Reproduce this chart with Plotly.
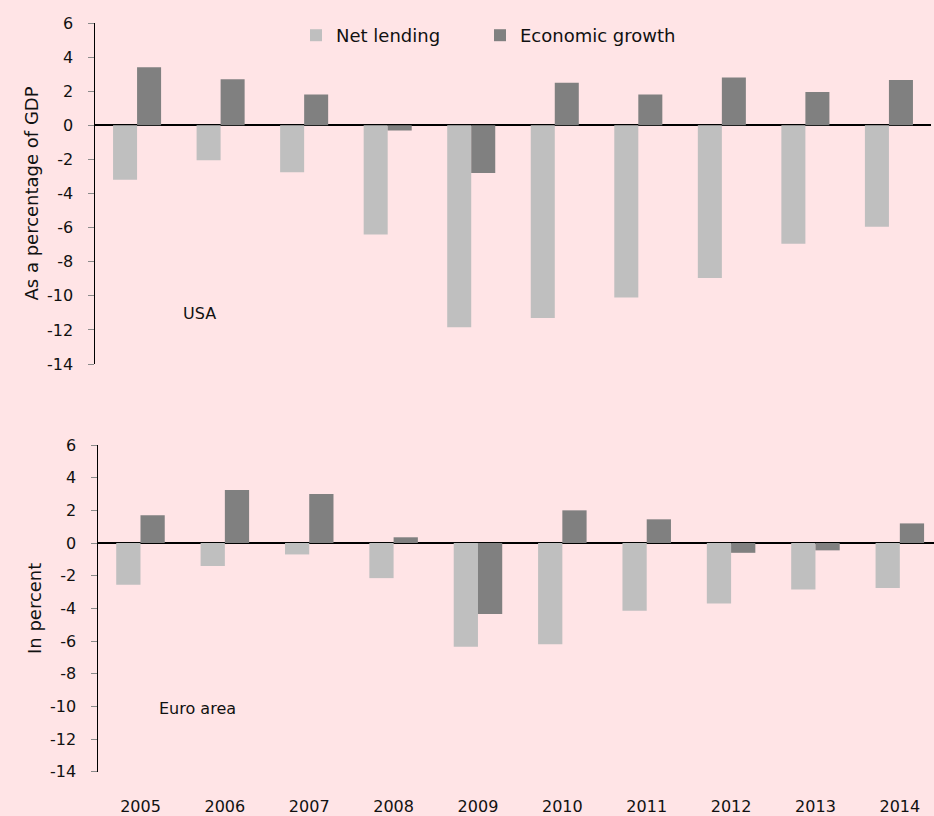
import plotly.graph_objects as go

years = ["2005", "2006", "2007", "2008", "2009", "2010", "2011", "2012", "2013", "2014"]
usa_net_lending = [-3.2, -2.05, -2.75, -6.4, -11.85, -11.3, -10.1, -8.95, -6.95, -5.95]
usa_growth = [3.4, 2.7, 1.8, -0.3, -2.8, 2.5, 1.8, 2.8, 1.95, 2.65]
euro_net_lending = [-2.55, -1.4, -0.7, -2.15, -6.35, -6.2, -4.15, -3.7, -2.85, -2.75]
euro_growth = [1.7, 3.25, 3.0, 0.35, -4.35, 2.0, 1.45, -0.6, -0.45, 1.2]
y_ticks = [6, 4, 2, 0, -2, -4, -6, -8, -10, -12, -14]
y_tick_labels = ["6", "4", "2", "0", "-2", "-4", "-6", "-8", "-10", "-12", "-14"]

W, H = 934, 816
LIGHT = "#bfbfbf"
DARK = "#808080"
BG = "#ffe4e6"
FONT = "DejaVu Sans"
TXT = "#111111"

fig = go.Figure()
fig.add_trace(go.Bar(x=years, y=usa_net_lending, name="Net lending", marker_color=LIGHT,
                     marker_line_width=0, xaxis="x", yaxis="y", legend="legend"))
fig.add_trace(go.Bar(x=years, y=usa_growth, name="Economic growth", marker_color=DARK,
                     marker_line_width=0, xaxis="x", yaxis="y", legend="legend2"))
fig.add_trace(go.Bar(x=years, y=euro_net_lending, name="Net lending", marker_color=LIGHT,
                     marker_line_width=0, xaxis="x2", yaxis="y2", showlegend=False))
fig.add_trace(go.Bar(x=years, y=euro_growth, name="Economic growth", marker_color=DARK,
                     marker_line_width=0, xaxis="x2", yaxis="y2", showlegend=False))

def px_x(p):
    return p / W

def px_y(p):
    return 1 - p / H

yax_common = dict(
    range=[-14, 6], tickvals=y_ticks, ticktext=y_tick_labels,
    ticks="outside", ticklen=6, tickcolor="#8a8a8a", ticklabelstandoff=12,
    showline=True, linecolor="#000000", linewidth=1, showgrid=False,
    zeroline=True, zerolinecolor="#000000", zerolinewidth=1.5,
    tickfont=dict(family=FONT, size=16, color=TXT), fixedrange=True,
    title_font=dict(family=FONT, size=18, color=TXT), automargin=False,
)

legend_common = dict(orientation="h", y=px_y(17), xanchor="left", yanchor="top",
                     xref="container", yref="container",
                     bgcolor="rgba(0,0,0,0)", font=dict(family=FONT, size=18, color=TXT),
                     itemwidth=30)

fig.update_layout(
    width=W, height=H,
    margin=dict(l=0, r=0, t=0, b=0, autoexpand=False),
    paper_bgcolor=BG, plot_bgcolor=BG,
    barmode="group", bargap=0.425, bargroupgap=0,
    font=dict(family=FONT, size=16, color=TXT),
    xaxis=dict(domain=[px_x(95.3), px_x(930.7)], anchor="y", range=[-0.5, 9.5],
               showticklabels=False, showgrid=False, showline=False, ticks="", zeroline=False,
               fixedrange=True, automargin=False),
    yaxis=dict(domain=[px_y(364), px_y(23)], anchor="x",
               title=dict(text="As a percentage of GDP", standoff=3), **yax_common),
    xaxis2=dict(domain=[px_x(98.3), 1.0], anchor="y2", range=[-0.5, 9.405],
                showticklabels=True, showgrid=False, showline=False, ticks="", zeroline=False,
                tickfont=dict(family=FONT, size=16, color=TXT), ticklabelstandoff=23,
                fixedrange=True, automargin=False),
    yaxis2=dict(domain=[px_y(771.7), px_y(445)], anchor="x2",
                title=dict(text="In percent", standoff=3), **yax_common),
    legend=dict(x=px_x(296), **legend_common),
    legend2=dict(x=px_x(480), **legend_common),
    annotations=[
        dict(text="USA", x=px_x(181), y=px_y(313), xref="paper", yref="paper",
             xanchor="left", yanchor="middle", showarrow=False,
             font=dict(family=FONT, size=16, color=TXT)),
        dict(text="Euro area", x=px_x(157), y=px_y(708), xref="paper", yref="paper",
             xanchor="left", yanchor="middle", showarrow=False,
             font=dict(family=FONT, size=16, color=TXT)),
    ],
)

fig.write_html("out.html", config={"displayModeBar": False},
               post_script="document.body.style.margin='0';document.body.style.overflow='hidden';")
